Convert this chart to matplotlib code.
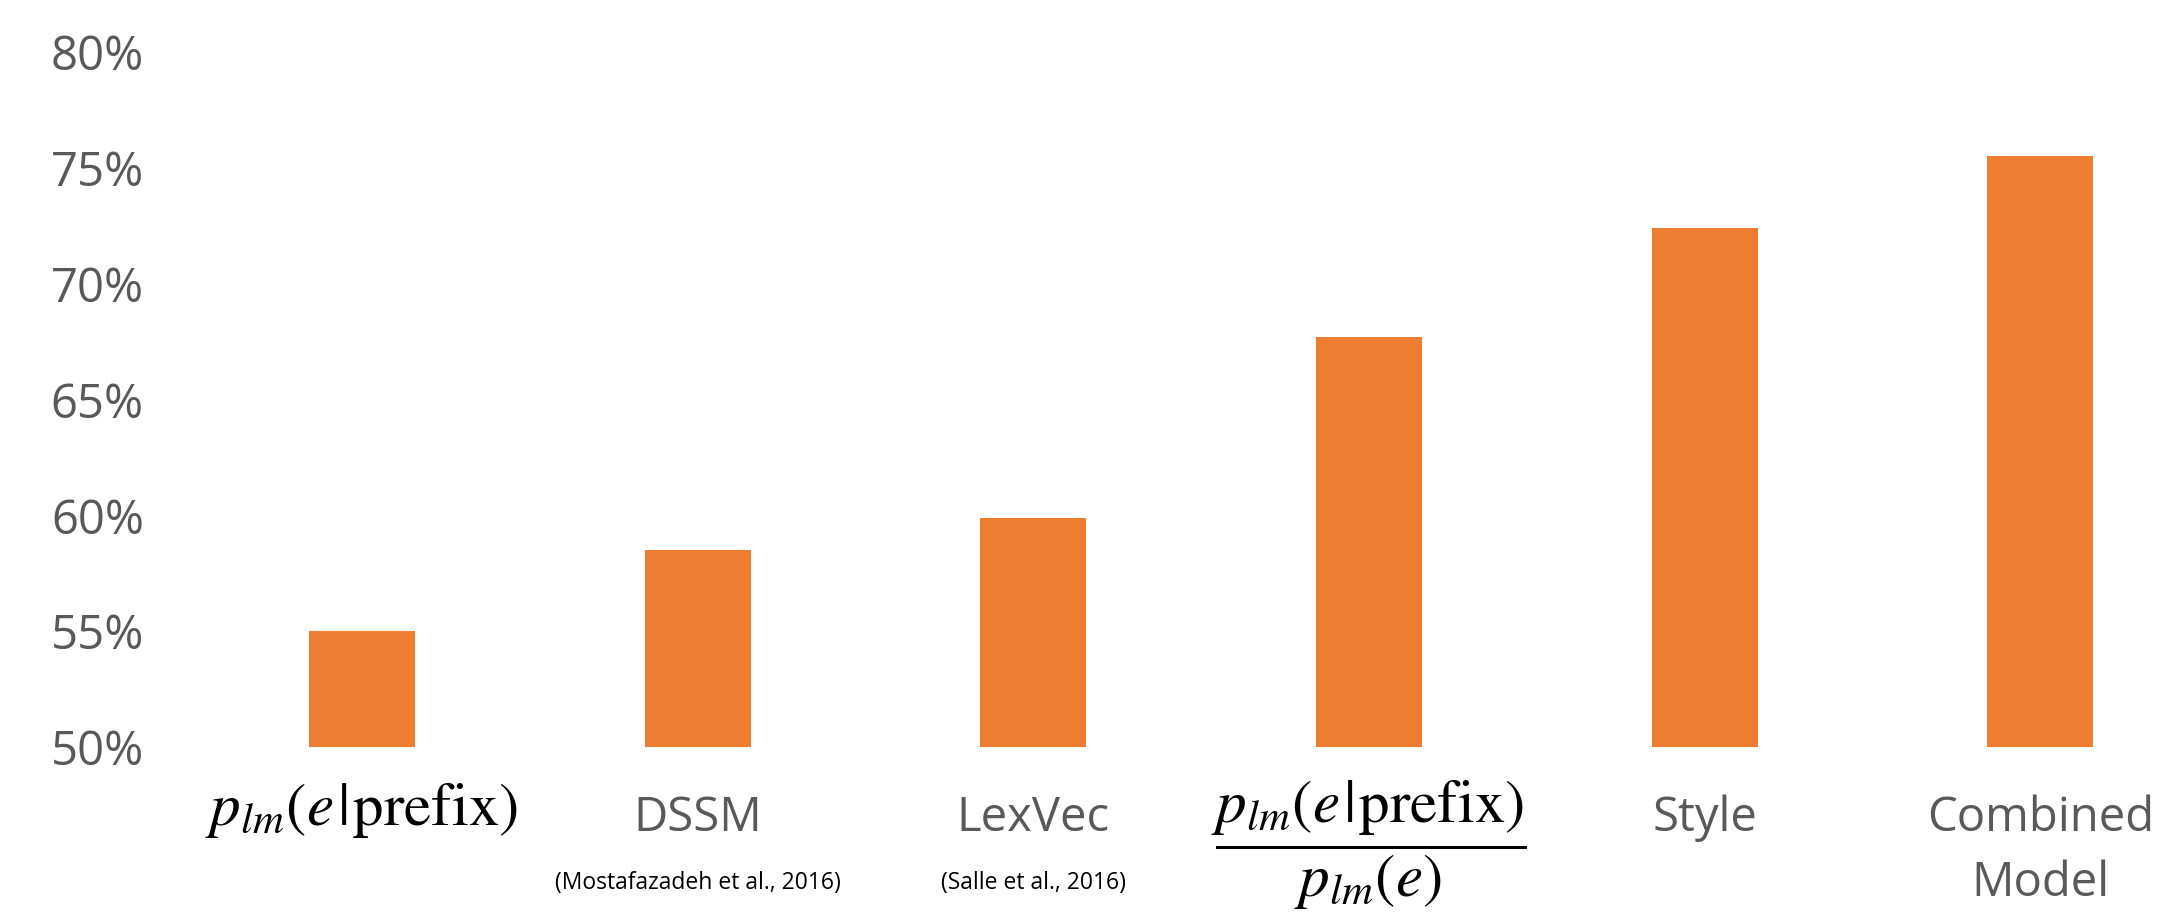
import matplotlib
matplotlib.use("Agg")
import matplotlib.pyplot as plt
from matplotlib.transforms import blended_transform_factory
from matplotlib.ticker import PercentFormatter

categories = ["plm_prefix", "DSSM", "LexVec", "plm_ratio", "Style", "Combined Model"]
values = [55.0, 58.5, 59.9, 67.7, 72.4, 75.5]
yticks = [50, 55, 60, 65, 70, 75, 80]

BAR = "#ED7D31"
GRAY = "#595959"
W, H = 2178, 916

plt.rcParams["mathtext.fontset"] = "stix"
plt.rcParams["font.family"] = ["Open Sans", "DejaVu Sans"]

fig = plt.figure(figsize=(W / 100, H / 100), dpi=100)
left_px, right_px = 194, 2178
bot_px, top_px = 747, 52
ax = fig.add_axes([left_px / W, 1 - bot_px / H, (right_px - left_px) / W, (bot_px - top_px) / H])

x = list(range(len(categories)))
ax.bar(x, [v - 50 for v in values], bottom=50, width=0.316, color=BAR)
ax.set_xlim(-0.5, 5.41)
ax.set_ylim(50, 80)
ax.set_yticks(yticks)
ax.yaxis.set_major_formatter(PercentFormatter(decimals=0))
ax.tick_params(axis="y", length=0, pad=36, labelsize=34, labelcolor=GRAY)
ax.set_xticks([])
for s in ax.spines.values():
    s.set_visible(False)

tr = blended_transform_factory(ax.transData, fig.transFigure)
def fy(px):
    return 1 - px / H

num = r"p_{lm}(e\hspace{0.1}|\hspace{0.06}\mathrm{prefix})"
# category labels
ax.text(0, fy(810), "$" + num + "$", transform=tr, ha="center", va="center",
        fontsize=44, color="black")
ax.text(1, fy(831), "DSSM", transform=tr, ha="center", va="baseline", fontsize=34, color=GRAY)
ax.text(2, fy(831), "LexVec", transform=tr, ha="center", va="baseline", fontsize=34, color=GRAY)
ax.text(3, fy(845), r"$\dfrac{" + num + r"}{p_{lm}(e)}$", transform=tr, ha="center",
        va="center", fontsize=44, color="black")
ax.text(4, fy(831), "Style", transform=tr, ha="center", va="baseline", fontsize=34, color=GRAY)
ax.text(5, fy(831), "Combined", transform=tr, ha="center", va="baseline", fontsize=34, color=GRAY)
ax.text(5, fy(896), "Model", transform=tr, ha="center", va="baseline", fontsize=34, color=GRAY)

# citations
ax.text(1, fy(889), "(Mostafazadeh et al., 2016)", transform=tr, ha="center", va="baseline",
        fontsize=16.5, color="black")
ax.text(2, fy(889), "(Salle et al., 2016)", transform=tr, ha="center", va="baseline",
        fontsize=16.5, color="black")

fig.savefig("out.png", dpi=100)
